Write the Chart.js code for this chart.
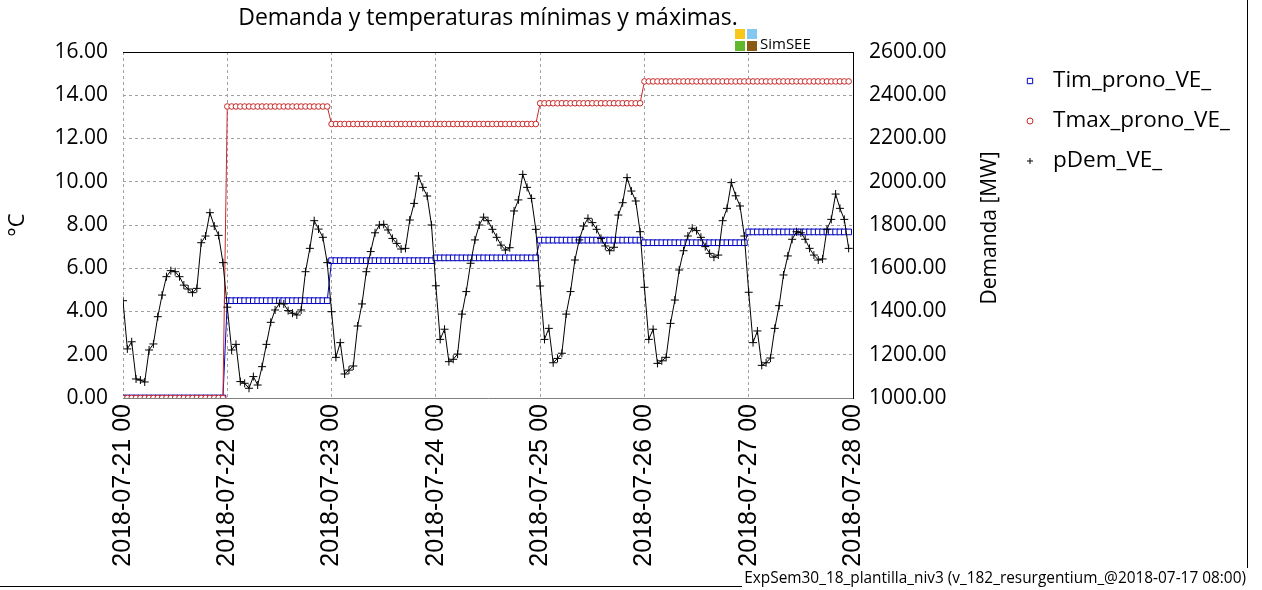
<!DOCTYPE html>
<html lang="es">
<head>
<meta charset="utf-8">
<title>Demanda y temperaturas mínimas y máximas.</title>
<script src="https://cdn.jsdelivr.net/npm/chart.js@4.4.1/dist/chart.umd.min.js"></script>
<style>
  html, body { margin: 0; padding: 0; background: #fff; }
  #chart { display: block; }
</style>
</head>
<body>
<canvas id="chart" width="1262" height="590"></canvas>
<script>
// x tick labels, one per day (hour 0, 24, 48 ...)
const dayLabels = [
  '2018-07-21 00', '2018-07-22 00', '2018-07-23 00', '2018-07-24 00',
  '2018-07-25 00', '2018-07-26 00', '2018-07-27 00', '2018-07-28 00'
];

// hourly values, one row per day
const timProno = [
  0, 0, 0, 0, 0, 0, 0, 0, 0, 0, 0, 0, 0, 0, 0, 0, 0, 0, 0, 0, 0, 0, 0, 0,
  4.5, 4.5, 4.5, 4.5, 4.5, 4.5, 4.5, 4.5, 4.5, 4.5, 4.5, 4.5, 4.5, 4.5, 4.5, 4.5, 4.5, 4.5, 4.5, 4.5, 4.5, 4.5, 4.5, 4.5,
  6.35, 6.35, 6.35, 6.35, 6.35, 6.35, 6.35, 6.35, 6.35, 6.35, 6.35, 6.35, 6.35, 6.35, 6.35, 6.35, 6.35, 6.35, 6.35, 6.35, 6.35, 6.35, 6.35, 6.35,
  6.48, 6.48, 6.48, 6.48, 6.48, 6.48, 6.48, 6.48, 6.48, 6.48, 6.48, 6.48, 6.48, 6.48, 6.48, 6.48, 6.48, 6.48, 6.48, 6.48, 6.48, 6.48, 6.48, 6.48,
  7.3, 7.3, 7.3, 7.3, 7.3, 7.3, 7.3, 7.3, 7.3, 7.3, 7.3, 7.3, 7.3, 7.3, 7.3, 7.3, 7.3, 7.3, 7.3, 7.3, 7.3, 7.3, 7.3, 7.3,
  7.18, 7.18, 7.18, 7.18, 7.18, 7.18, 7.18, 7.18, 7.18, 7.18, 7.18, 7.18, 7.18, 7.18, 7.18, 7.18, 7.18, 7.18, 7.18, 7.18, 7.18, 7.18, 7.18, 7.18,
  7.68, 7.68, 7.68, 7.68, 7.68, 7.68, 7.68, 7.68, 7.68, 7.68, 7.68, 7.68, 7.68, 7.68, 7.68, 7.68, 7.68, 7.68, 7.68, 7.68, 7.68, 7.68, 7.68, 7.68
];

const tmaxProno = [
  0, 0, 0, 0, 0, 0, 0, 0, 0, 0, 0, 0, 0, 0, 0, 0, 0, 0, 0, 0, 0, 0, 0, 0,
  13.48, 13.48, 13.48, 13.48, 13.48, 13.48, 13.48, 13.48, 13.48, 13.48, 13.48, 13.48, 13.48, 13.48, 13.48, 13.48, 13.48, 13.48, 13.48, 13.48, 13.48, 13.48, 13.48, 13.48,
  12.67, 12.67, 12.67, 12.67, 12.67, 12.67, 12.67, 12.67, 12.67, 12.67, 12.67, 12.67, 12.67, 12.67, 12.67, 12.67, 12.67, 12.67, 12.67, 12.67, 12.67, 12.67, 12.67, 12.67,
  12.67, 12.67, 12.67, 12.67, 12.67, 12.67, 12.67, 12.67, 12.67, 12.67, 12.67, 12.67, 12.67, 12.67, 12.67, 12.67, 12.67, 12.67, 12.67, 12.67, 12.67, 12.67, 12.67, 12.67,
  13.63, 13.63, 13.63, 13.63, 13.63, 13.63, 13.63, 13.63, 13.63, 13.63, 13.63, 13.63, 13.63, 13.63, 13.63, 13.63, 13.63, 13.63, 13.63, 13.63, 13.63, 13.63, 13.63, 13.63,
  14.64, 14.64, 14.64, 14.64, 14.64, 14.64, 14.64, 14.64, 14.64, 14.64, 14.64, 14.64, 14.64, 14.64, 14.64, 14.64, 14.64, 14.64, 14.64, 14.64, 14.64, 14.64, 14.64, 14.64,
  14.64, 14.64, 14.64, 14.64, 14.64, 14.64, 14.64, 14.64, 14.64, 14.64, 14.64, 14.64, 14.64, 14.64, 14.64, 14.64, 14.64, 14.64, 14.64, 14.64, 14.64, 14.64, 14.64, 14.64
];

const pDem = [
  1450, 1227, 1260, 1088, 1083, 1074, 1222, 1250, 1376, 1476, 1561, 1589, 1584, 1561, 1522, 1504, 1487, 1507, 1718, 1749, 1857, 1795, 1752, 1626,
  1420, 1222, 1248, 1076, 1068, 1045, 1099, 1060, 1145, 1248, 1350, 1407, 1438, 1435, 1404, 1392, 1384, 1407, 1584, 1692, 1820, 1781, 1743, 1626,
  1399, 1188, 1256, 1111, 1129, 1148, 1333, 1435, 1584, 1677, 1764, 1800, 1803, 1777, 1738, 1715, 1689, 1692, 1823, 1900, 2027, 1974, 1934, 1800,
  1519, 1271, 1318, 1168, 1179, 1203, 1388, 1492, 1623, 1731, 1800, 1836, 1820, 1780, 1743, 1707, 1684, 1695, 1865, 1916, 2034, 1974, 1923, 1780,
  1518, 1271, 1322, 1163, 1183, 1207, 1388, 1492, 1638, 1731, 1795, 1831, 1811, 1780, 1738, 1703, 1681, 1697, 1846, 1903, 2019, 1957, 1911, 1769,
  1512, 1271, 1318, 1160, 1172, 1188, 1345, 1453, 1592, 1681, 1749, 1785, 1774, 1743, 1700, 1669, 1651, 1661, 1820, 1877, 1996, 1935, 1888, 1749,
  1489, 1256, 1310, 1151, 1163, 1185, 1322, 1427, 1569, 1657, 1734, 1769, 1764, 1734, 1692, 1661, 1638, 1643, 1780, 1826, 1943, 1877, 1826, 1692
];

const FONT = '"Open Sans", "Noto Sans", sans-serif';
const XFONT = '"Liberation Sans", Arial, sans-serif';

const asPoints = arr => arr.map((v, i) => ({ x: i, y: v }));

const series = [
  { label: 'Tim_prono_VE_', data: timProno, axis: 'y', color: '#0000c0', style: 'rect', radius: 4, fill: '#ffffff', order: 2 },
  { label: 'Tmax_prono_VE_', data: tmaxProno, axis: 'y', color: '#c82828', style: 'circle', radius: 2.8, fill: '#ffffff', order: 1 },
  { label: 'pDem_VE_', data: pDem, axis: 'y2', color: '#000000', style: 'cross', radius: 4, fill: '#000000', order: 0 },
];

// extra decorations: frame, right axis title, legend, logo and footer
const extras = {
  id: 'extras',
  afterDraw(chart) {
    const { ctx, chartArea: a } = chart;
    ctx.save();

    ctx.strokeStyle = '#000';
    ctx.lineWidth = 1;
    ctx.beginPath();
    ctx.moveTo(a.left, Math.round(a.top) + 0.5);
    ctx.lineTo(a.right, Math.round(a.top) + 0.5);
    ctx.stroke();

    // page frame
    ctx.beginPath();
    ctx.moveTo(1247.5, 0);
    ctx.lineTo(1247.5, 568);
    ctx.moveTo(0, 586.5);
    ctx.lineTo(742, 586.5);
    ctx.stroke();

    ctx.fillStyle = '#000';
    ctx.font = '21px ' + FONT;
    ctx.textAlign = 'center';
    ctx.textBaseline = 'middle';
    ctx.save();
    ctx.translate(990, 228);
    ctx.rotate(-Math.PI / 2);
    ctx.fillText('Demanda [MW]', 0, 0);
    ctx.restore();

    // legend
    ctx.textAlign = 'left';
    ctx.font = '22.5px ' + FONT;
    series.forEach((s, i) => {
      const y = 81 + i * 40;
      ctx.fillStyle = s.fill;
      ctx.strokeStyle = s.color;
      Chart.helpers.drawPoint(ctx, { pointStyle: s.style, radius: s.style === 'rect' ? 3.8 : 3, borderWidth: 1.3, rotation: 0 }, 1030, y);
      ctx.fillStyle = '#000';
      ctx.fillText(s.label, 1053, y);
    });

    // SimSEE logo
    ctx.fillStyle = '#f7c71c'; ctx.fillRect(735, 29, 10, 10);
    ctx.fillStyle = '#82c8f0'; ctx.fillRect(747, 29, 10, 10);
    ctx.fillStyle = '#62b82c'; ctx.fillRect(735, 41, 10, 10);
    ctx.fillStyle = '#8a5a12'; ctx.fillRect(747, 41, 10, 10);
    ctx.fillStyle = '#000';
    ctx.font = '15px ' + FONT;
    ctx.textBaseline = 'alphabetic';
    ctx.fillText('SimSEE', 760, 49);

    ctx.font = '15.4px ' + FONT;
    ctx.textAlign = 'right';
    ctx.fillText('ExpSem30_18_plantilla_niv3 (v_182_resurgentium_@2018-07-17 08:00)', 1246, 583);

    ctx.restore();
  }
};

const ctx = document.getElementById('chart').getContext('2d');

new Chart(ctx, {
  type: 'line',
  data: {
    datasets: series.map(s => ({
      label: s.label,
      data: asPoints(s.data),
      yAxisID: s.axis,
      borderColor: s.color,
      borderWidth: 1,
      backgroundColor: s.fill,
      pointStyle: s.style,
      pointRadius: s.radius,
      pointBorderColor: s.color,
      pointBackgroundColor: s.fill,
      pointBorderWidth: 1,
      tension: 0,
      order: s.order,
    }))
  },
  options: {
    responsive: false,
    animation: false,
    layout: { padding: 0 },
    plugins: {
      legend: { display: false },
      tooltip: { enabled: false },
      title: {
        display: true,
        fullSize: false,
        text: 'Demanda y temperaturas mínimas y máximas.',
        color: '#000',
        font: { family: FONT, size: 23, weight: 'normal', lineHeight: 1.2 },
        padding: { top: 5, bottom: 19.4 },
      }
    },
    scales: {
      x: {
        type: 'linear',
        min: 0,
        max: 168,
        afterFit: s => { s.height = 192; },
        afterBuildTicks: s => { s.ticks = dayLabels.map((_, i) => ({ value: i * 24 })); },
        ticks: {
          color: '#000',
          font: { family: XFONT, size: 25 },
          minRotation: 90,
          maxRotation: 90,
          padding: 6,
          autoSkip: false,
          callback: v => dayLabels[v / 24],
        },
        grid: { color: '#a0a0a0', drawTicks: false },
        border: { display: true, color: '#808080', dash: [3, 3] },
      },
      y: {
        position: 'left',
        min: 0,
        max: 16,
        afterFit: s => { s.width = 123; },
        ticks: {
          stepSize: 2,
          color: '#000',
          font: { family: FONT, size: 21 },
          padding: 15,
          callback: v => v.toFixed(2),
        },
        grid: { color: '#a0a0a0', drawTicks: false },
        border: { display: false, dash: [3, 3] },
        title: {
          display: true,
          text: '°C',
          color: '#000',
          font: { family: FONT, size: 22 },
          padding: { top: 5, bottom: 0 },
        }
      },
      y2: {
        position: 'right',
        min: 1000,
        max: 2600,
        afterFit: s => { s.width = 409; },
        ticks: {
          stepSize: 200,
          color: '#000',
          font: { family: FONT, size: 21 },
          padding: 16,
          callback: v => v.toFixed(2),
        },
        grid: { drawOnChartArea: false, drawTicks: false },
        border: { display: true, color: '#000', width: 1 },
      }
    }
  },
  plugins: [extras]
});
</script>
</body>
</html>
